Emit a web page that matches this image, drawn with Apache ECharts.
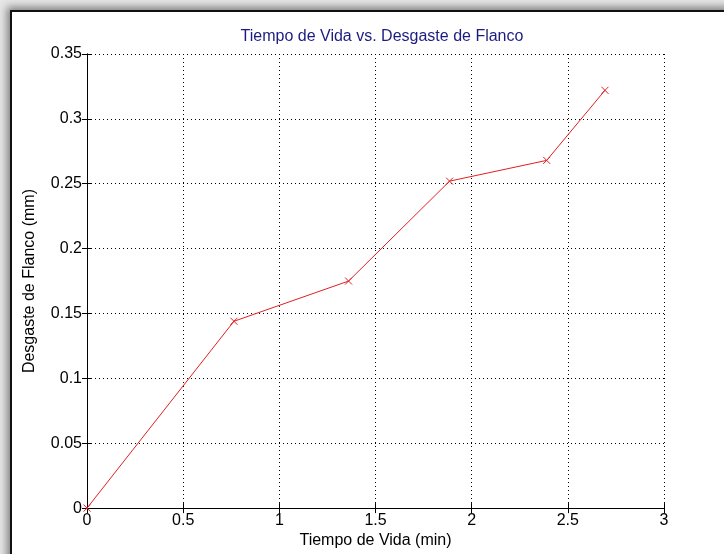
<!DOCTYPE html>
<html>
<head>
<meta charset="utf-8">
<script src="https://cdn.jsdelivr.net/npm/echarts@6/dist/echarts.min.js"></script>
<style>
  html, body { margin: 0; padding: 0; width: 724px; height: 554px; overflow: hidden; background: #e6e6e6; }
  .frame {
    position: absolute; left: 10px; top: 10px; width: 800px; height: 600px;
    background: #fff; border: 2px solid #111;
    box-shadow: -3px -3px 8px rgba(0,0,0,0.45);
  }
  #chart { position: absolute; left: 0; top: 0; width: 724px; height: 554px; }
</style>
</head>
<body>
<div class="frame"></div>
<div id="chart"></div>
<script>
// datos
const tiempo = [0, 0.764, 1.36, 1.885, 2.39, 2.693];
const desgaste = [0, 0.144, 0.175, 0.252, 0.268, 0.322];
const xTicks = [0, 0.5, 1, 1.5, 2, 2.5, 3];
const yTicks = [0, 0.05, 0.1, 0.15, 0.2, 0.25, 0.3, 0.35];

const fuente = '"Liberation Sans Narrow", "Liberation Sans", Arial, sans-serif';
let chart = echarts.init(document.getElementById('chart'));

const ejeBase = {
  axisLine: { show: true, lineStyle: { color: '#000', width: 1 } },
  axisTick: { show: true, inside: true, length: 5, lineStyle: { color: '#000' } },
  splitLine: { show: false }
};

chart.setOption({
  backgroundColor: 'transparent',
  animation: false,
  title: {
    text: 'Tiempo de Vida vs. Desgaste de Flanco',
    left: 377, top: 24, textAlign: 'center',
    textStyle: { color: '#1c1c80', fontSize: 16, fontWeight: 'normal', fontFamily: fuente }
  },
  grid: { left: 87, right: 60, top: 54, bottom: 45 },
  xAxis: [
    Object.assign({}, ejeBase, {
      type: 'value', min: 0, max: 3, interval: 0.5,
      name: 'Tiempo de Vida (min)', nameLocation: 'middle', nameGap: 24,
      nameTextStyle: { color: '#000', fontSize: 16, fontFamily: fuente },
      axisLabel: { color: '#000', fontSize: 16, fontFamily: fuente, margin: 4,
        formatter: v => xTicks.includes(v) ? String(v) : '' },
      splitLine: { show: true, lineStyle: { color: '#000', type: [1, 3], width: 1 } }
    }),
    Object.assign({}, ejeBase, {
      type: 'value', min: 0, max: 3, interval: 0.5, position: 'top',
      axisLabel: { show: false }
    })
  ],
  yAxis: [
    Object.assign({}, ejeBase, {
      type: 'value', min: 0, max: 0.35, interval: 0.05,
      name: 'Desgaste de Flanco (mm)', nameLocation: 'middle', nameGap: 49,
      nameTextStyle: { color: '#000', fontSize: 16, fontFamily: fuente },
      axisLabel: { color: '#000', fontSize: 16, fontFamily: fuente, margin: 5,
        formatter: v => { const t = yTicks.find(k => Math.abs(k - v) < 1e-9); return t === undefined ? '' : String(t); } },
      splitLine: { show: true, lineStyle: { color: '#000', type: [1, 3], width: 1 } }
    }),
    Object.assign({}, ejeBase, {
      type: 'value', min: 0, max: 0.35, interval: 0.05, position: 'right',
      axisLabel: { show: false }
    })
  ],
  series: [{
    type: 'line',
    data: tiempo.map((t, i) => [t, desgaste[i]]),
    symbol: 'path://M0,0L10,10M10,0L0,10',
    symbolSize: 7,
    showSymbol: true,
    lineStyle: { color: '#e02020', width: 1 },
    itemStyle: { color: 'rgba(0,0,0,0)', borderColor: '#e02020', borderWidth: 1 },
    z: 5
  }]
});
</script>
</body>
</html>
